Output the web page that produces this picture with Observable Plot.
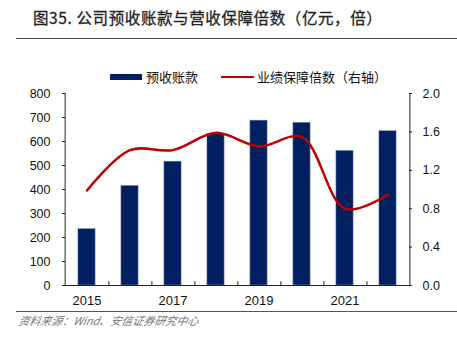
<!DOCTYPE html>
<html><head><meta charset="utf-8">
<script src="https://cdn.jsdelivr.net/npm/d3@7"></script>
<script src="https://cdn.jsdelivr.net/npm/@observablehq/plot@0.6"></script>
<style>
body{margin:0;background:#fff;}
#wrap{position:relative;width:457px;height:346px;overflow:hidden;background:#fff;font-family:"Liberation Sans","Noto Sans CJK SC",sans-serif;}
#wrap svg{position:absolute;left:0;top:0;}
.abs{position:absolute;white-space:nowrap;}
</style></head>
<body><div id="wrap"></div>
<script>
const years = ["2015","2016","2017","2018","2019","2020","2021","2022"];
const advance = [235, 415, 516, 632, 687, 678, 561, 643];      // 预收账款（亿元）
const ratio = [0.99, 1.41, 1.41, 1.59, 1.45, 1.545, 0.80, 0.945]; // 业绩保障倍数（倍）
const leftTicks = [0,100,200,300,400,500,600,700,800];
const rightTicks = [0,0.4,0.8,1.2,1.6,2.0];
const xLabels = ["2015","2017","2019","2021"];
const k = 400; // right axis → left axis
const data = years.map((y,i)=>({year:y, adv:advance[i], r:ratio[i]}));

const W=457,H=346,mL=62,mR=45,mT=93,mB=61;
const step=(W-mL-mR)/years.length;
const navy="#002060", red="#C00000";
const chart = Plot.plot({
  width:W,height:H,marginLeft:mL,marginRight:mR,marginTop:mT,marginBottom:mB,
  style:{fontFamily:"Liberation Sans, Arial, sans-serif",background:"transparent",color:"#111"},
  x:{type:"band",domain:years,padding:0,label:null},
  y:{domain:[0,800],label:null},
  marks:[
    Plot.barY(data,{x:"year",y:"adv",fill:navy,stroke:"#7f95c0",strokeWidth:0.5,insetLeft:12.9,insetRight:12.9}),
    Plot.line(data,{x:"year",y:d=>d.r*k,curve:"catmull-rom",stroke:red,strokeWidth:2.5}),
    Plot.ruleY([0],{stroke:"#222",strokeWidth:1.2}),
    Plot.ruleX([years[0]],{dx:-step/2,y1:0,y2:800,stroke:"#222",strokeWidth:1}),
    Plot.ruleX([years[years.length-1]],{dx:step/2,y1:0,y2:800,stroke:"#222",strokeWidth:1}),
    Plot.ruleX(years.slice(0,-1),{x:d=>d,dx:step/2,y1:0,y2:16,stroke:"#222",strokeWidth:1}),
    Plot.tickY(leftTicks,{y:d=>d,insetRight:W-mL-mR-3,stroke:"#222"}),
    Plot.tickY(rightTicks,{y:d=>d*k,insetLeft:W-mL-mR-3,stroke:"#222"}),
    Plot.axisY(leftTicks,{anchor:"left",tickSize:0,tickPadding:12,fontSize:12.5,fill:"#111",label:null}),
    Plot.axisY(rightTicks.map(v=>v*k),{anchor:"right",tickSize:0,tickPadding:10,fontSize:12.5,fill:"#111",label:null,tickFormat:d=>(d/k).toFixed(1)}),
    Plot.axisX(xLabels,{anchor:"bottom",tickSize:0,tickPadding:10,fontSize:13,fill:"#111",label:null})
  ]
});
const wrap=document.getElementById("wrap");
wrap.appendChild(chart);
function add(html,css){const d=document.createElement("div");d.className="abs";d.innerHTML=html;Object.assign(d.style,css);wrap.appendChild(d);return d;}
// title
add("图35. 公司预收账款与营收保障倍数（亿元，倍）",{left:"33px",top:"7px",fontSize:"15.5px",fontWeight:"normal",color:"#222",fontFamily:"'Noto Sans CJK SC',sans-serif",lineHeight:"20px",letterSpacing:"0.6px",WebkitTextStroke:"0.3px #222"});
add("",{left:"16px",top:"38px",width:"441px",height:"0",borderTop:"1.5px solid #444"});
// legend
add("",{left:"110px",top:"74px",width:"32px",height:"6px",background:navy});
add("预收账款",{left:"146px",top:"68px",fontSize:"13px",lineHeight:"18px",color:"#111",fontFamily:"'Noto Sans CJK SC',sans-serif"});
add("",{left:"221px",top:"76px",width:"33px",height:"0",borderTop:"2.5px solid "+red});
add("业绩保障倍数（右轴）",{left:"257px",top:"68px",fontSize:"13px",lineHeight:"18px",color:"#111",fontFamily:"'Noto Sans CJK SC',sans-serif"});
// footer
add("",{left:"16px",top:"311px",width:"441px",height:"0",borderTop:"1.5px solid #555"});
add("资料来源：Wind、安信证券研究中心",{left:"17px",top:"313px",fontSize:"11px",lineHeight:"15px",color:"#777",fontStyle:"italic",fontFamily:"'Noto Sans CJK SC',sans-serif",transform:"skewX(-12deg)",transformOrigin:"left bottom"});
</script></body></html>
